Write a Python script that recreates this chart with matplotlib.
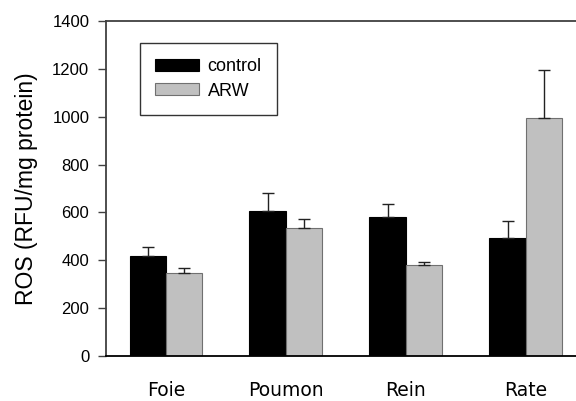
import matplotlib
matplotlib.use("Agg")
import matplotlib.pyplot as plt
import numpy as np

# data
organes = ["Foie", "Poumon", "Rein", "Rate"]
control = [418, 607, 582, 494]
control_err = [36, 75, 53, 71]
arw = [348, 536, 381, 995]
arw_err = [20, 36, 10, 201]

plt.rcParams['font.family'] = ['Liberation Sans', 'DejaVu Sans']

fig = plt.figure(figsize=(5.76, 4.01), dpi=100)
ax = fig.add_axes([0.184, 0.112, 0.816, 0.836])

x = np.arange(len(organes))
w = 0.304

ax.bar(x - w / 2, control, w, color="black", edgecolor="black", linewidth=0.8,
       yerr=[np.zeros(4), control_err], error_kw=dict(ecolor="#222222", elinewidth=1, capsize=4.5, capthick=1),
       label="control")
ax.bar(x + w / 2, arw, w, color="#c0c0c0", edgecolor="#707070", linewidth=0.8,
       yerr=[np.zeros(4), arw_err], error_kw=dict(ecolor="#222222", elinewidth=1, capsize=4.5, capthick=1),
       label="ARW")

ax.set_xlim(-0.5, 3.417)
ax.set_ylim(0, 1400)
ax.set_yticks(range(0, 1401, 200))
ax.set_xticks(x)
ax.set_xticklabels(organes, family="DejaVu Sans", fontsize=13.5)
ax.tick_params(axis="x", length=0, pad=18)
ax.tick_params(axis="y", direction="out", length=6, width=1, color="#404040", labelsize=12, pad=6)
ax.set_ylabel("ROS (RFU/mg protein)", fontsize=16.5, labelpad=10)

ax.spines["right"].set_visible(False)
for s in ["left", "top", "bottom"]:
    ax.spines[s].set_color("#404040")
    ax.spines[s].set_linewidth(1.3)
ax.spines["bottom"].set_color("black")

leg = ax.legend(loc="upper left", bbox_to_anchor=(0.072, 0.934), fontsize=13,
                frameon=True, fancybox=False, edgecolor="black", handlelength=2.4,
                handleheight=0.6, borderpad=0.85, labelspacing=0.4, handletextpad=0.5,
                borderaxespad=0)
leg.get_frame().set_linewidth(1.0)

fig.savefig("out.png", dpi=100)
